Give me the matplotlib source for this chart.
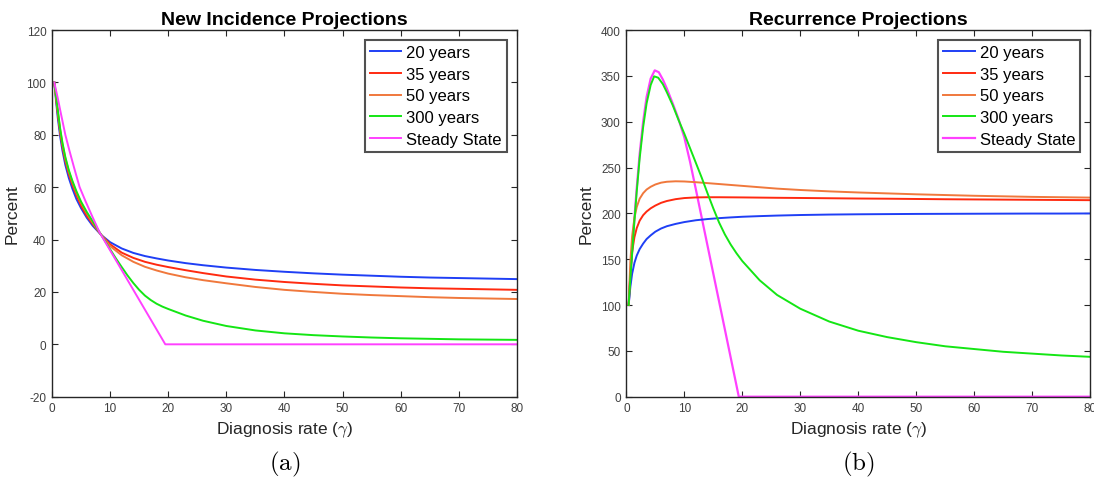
import matplotlib

matplotlib.use("Agg")
import matplotlib.pyplot as plt

plt.rcParams["font.family"] = ["Liberation Sans", "DejaVu Sans"]
plt.rcParams["mathtext.fontset"] = "cm"
plt.rcParams["axes.unicode_minus"] = False

labels = ["20 years", "35 years", "50 years", "300 years", "Steady State"]
colors = ["#1f3ff5", "#ff2a10", "#f0783c", "#14e614", "#ff40ff"]

# ---- (a) new incidence
inc_x = [0.4, 0.7, 1.0, 1.4, 1.8, 2.3, 2.9, 3.5, 4.2, 5.0, 6.0, 7.0, 8.5, 10, 12, 14,
         16, 18, 20, 23, 26, 30, 35, 40, 45, 50, 55, 60, 65, 70, 75, 80]
inc_20 = [100, 93, 86.5, 79.5, 74, 68.5, 63.5, 59.5, 55.5, 52, 48.3, 45.3, 41.7, 39.0, 36.6, 34.9,
          33.7, 32.8, 32.0, 31.0, 30.2, 29.3, 28.4, 27.7, 27.1, 26.6, 26.2, 25.8, 25.5, 25.3, 25.1, 24.9]
inc_35 = [100, 94, 88, 81, 75.5, 70, 65, 61, 57, 53, 49, 46, 41.7, 38.2, 35.0, 33.0,
          31.5, 30.4, 29.5, 28.3, 27.2, 25.9, 24.7, 23.8, 23.1, 22.5, 22.1, 21.7, 21.4, 21.2, 21.0, 20.8]
inc_50 = [100, 94.5, 89, 82, 76.5, 71, 66, 62, 58, 54, 50, 46.5, 41.7, 37.5, 34.0, 31.5,
          29.6, 28.2, 27.0, 25.6, 24.5, 23.3, 21.9, 20.8, 20.0, 19.3, 18.8, 18.4, 18.0, 17.7, 17.5, 17.3]
inc_300_x = [0.4, 0.7, 1.0, 1.4, 1.8, 2.3, 2.9, 3.5, 4.2, 5.0, 6.0, 7.0, 8.5, 10, 11, 12, 13, 14, 15,
             16, 17, 18, 19, 20, 23, 26, 30, 35, 40, 45, 50, 55, 60, 65, 70, 75, 80]
inc_300 = [100, 95, 89.5, 82.5, 77, 71.5, 66.5, 62.5, 58.5, 54.5, 50.5, 47, 41.7, 36.3, 32.8, 29.5, 26.3, 23.4, 20.8,
           18.6, 16.9, 15.5, 14.4, 13.5, 11.0, 9.0, 7.0, 5.3, 4.2, 3.5, 3.0, 2.6, 2.3, 2.1, 1.9, 1.8, 1.7]
inc_ss_x = [0.4, 1.0, 1.5, 2.3, 3.0, 3.8, 4.76, 5.8, 7.0, 8.2, 19.5, 80]
inc_ss = [100, 94, 88.5, 80, 74, 67.5, 60, 54.5, 48.5, 42.7, 0, 0]

# ---- (b) recurrence
rec_x = [0.4, 0.7, 1.0, 1.4, 1.8, 2.3, 2.9, 3.5, 4.2, 5.0, 6.0, 7.0, 8.5, 10, 12, 14,
         16, 18, 20, 23, 26, 30, 35, 40, 45, 50, 55, 60, 65, 70, 75, 80]
rec_20 = [100, 120, 134, 146, 154, 161, 167, 172, 176, 180, 183.5, 186, 188.5, 190.5, 192.5, 193.8,
          194.8, 195.6, 196.3, 197, 197.6, 198.2, 198.7, 199, 199.2, 199.4, 199.5, 199.6, 199.7, 199.8, 199.8, 199.9]
rec_35 = [100, 135, 158, 174, 184, 192, 198, 202, 205.5, 208.5, 211.5, 213.5, 215.5, 216.7, 217.4, 217.6,
          217.6, 217.5, 217.4, 217.2, 217, 216.8, 216.5, 216.2, 216, 215.7, 215.4, 215.2, 215, 214.8, 214.6, 214.4]
rec_50 = [100, 148, 175, 195, 207, 216, 222, 226, 229, 231.5, 233.5, 234.5, 235, 234.8, 234, 233,
          232, 231, 230, 228.5, 227, 225.5, 224, 222.8, 221.8, 220.8, 220, 219.2, 218.6, 218, 217.6, 217.2]
rec_300_x = [0.4, 0.7, 1.0, 1.4, 1.8, 2.3, 2.9, 3.5, 4.2, 4.8, 5.5, 6.3, 7.0, 8.0, 9.0, 10, 11, 12, 13,
             14, 15, 16, 17, 18, 19, 20, 23, 26, 30, 35, 40, 45, 50, 55, 60, 65, 70, 75, 80]
rec_300 = [100, 129, 156, 192, 224, 260, 294, 320, 340, 349.5, 348, 341, 332, 318, 302, 287, 271, 255, 239,
           222, 205.5, 190, 177, 166, 156.5, 148, 127, 111, 96, 82, 72, 65, 59.5, 55, 52, 49, 47, 45, 43.5]
rec_ss_x = [0.4, 0.7, 1.0, 1.4, 1.8, 2.3, 2.9, 3.5, 4.2, 4.9, 5.6, 6.3, 7.0, 8.0, 9.0, 10, 11, 12, 19.4, 80]
rec_ss = [100, 130, 158, 195, 228, 265, 300, 327, 347, 356, 354, 346, 336, 320, 303, 283, 256, 226, 0, 0]

fig = plt.figure(figsize=(10.94, 4.85), dpi=100)
ax1 = fig.add_axes([0.0475, 0.18, 0.425, 0.756])
ax2 = fig.add_axes([0.5725, 0.18, 0.424, 0.756])

for y, c, lab in zip([inc_20, inc_35, inc_50], colors[:3], labels[:3]):
    ax1.plot(inc_x, y, color=c, lw=1.4, label=lab)
ax1.plot(inc_300_x, inc_300, color=colors[3], lw=1.4, label=labels[3])
ax1.plot(inc_ss_x, inc_ss, color=colors[4], lw=1.4, label=labels[4])

for y, c, lab in zip([rec_20, rec_35, rec_50], colors[:3], labels[:3]):
    ax2.plot(rec_x, y, color=c, lw=1.4, label=lab)
ax2.plot(rec_300_x, rec_300, color=colors[3], lw=1.4, label=labels[3])
ax2.plot(rec_ss_x, rec_ss, color=colors[4], lw=1.6, label=labels[4], zorder=1.9)

setup = [
    (ax1, "New Incidence Projections", (-20, 120), range(-20, 121, 20), "(a)"),
    (ax2, "Recurrence Projections", (0, 400), range(0, 401, 50), "(b)"),
]
for ax, title, ylim, yticks, cap in setup:
    ax.set_xlim(0, 80)
    ax.set_ylim(*ylim)
    ax.set_xticks(range(0, 81, 10))
    ax.set_yticks(list(yticks))
    ax.tick_params(direction="in", top=True, right=True, length=4, width=0.8,
                   labelsize=8.5, colors="#262626", labelcolor="#404040", pad=4)
    for s in ax.spines.values():
        s.set_color("#262626")
        s.set_linewidth(1.0)
    ax.set_title(title, fontsize=14, fontweight="bold", pad=4)
    ax.set_xlabel(r"Diagnosis rate ($\gamma$)", fontsize=12.5, color="#262626", labelpad=4)
    ax.set_ylabel("Percent", fontsize=12.5, color="#262626", labelpad=5)
    leg = ax.legend(loc="upper right", fontsize=12, frameon=True, fancybox=False,
                    handlelength=1.9, handletextpad=0.3, borderpad=0.3,
                    labelspacing=0.4, borderaxespad=0.6)
    leg.get_frame().set_edgecolor("#262626")
    leg.get_frame().set_linewidth(1.5)
    ax.text(0.5, -0.183, r"$\mathrm{" + cap + "}$", transform=ax.transAxes,
            ha="center", va="center", fontsize=18)

fig.savefig("out.png", dpi=100)
